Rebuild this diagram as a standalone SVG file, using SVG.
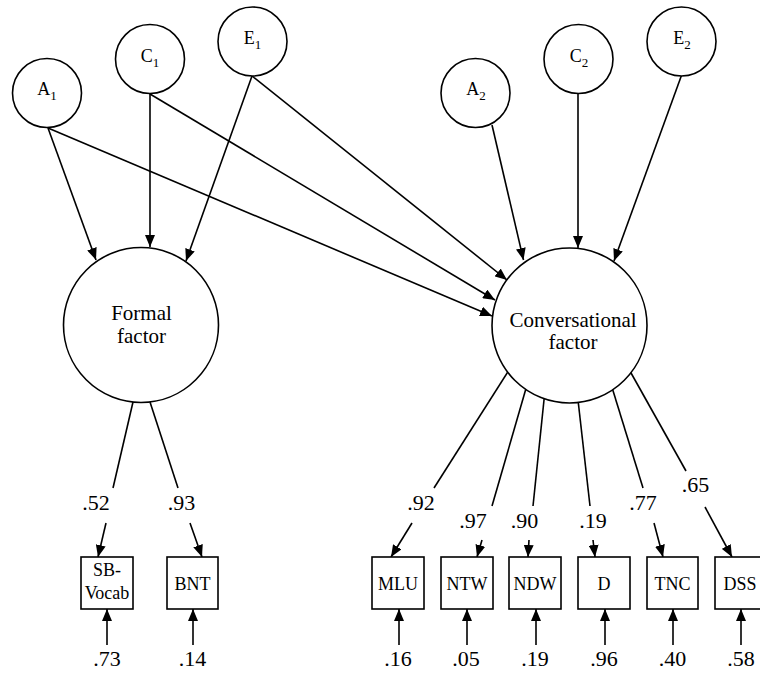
<svg xmlns="http://www.w3.org/2000/svg" width="760" height="673" viewBox="0 0 760 673" font-family="'Liberation Serif', 'Times New Roman', serif">
<defs>
<marker id="ah" viewBox="0 0 12 10" refX="12" refY="5" markerWidth="12" markerHeight="10" orient="auto" markerUnits="userSpaceOnUse"><path d="M0,0 L12,5 L0,10 z" fill="#000"/></marker>
<style>
.c{fill:#fff;stroke:#000;stroke-width:1.6}
.b{fill:#fff;stroke:#000;stroke-width:1.6}
.l{fill:none;stroke:#000;stroke-width:1.6}
.a{fill:none;stroke:#000;stroke-width:1.6;marker-end:url(#ah)}
text{fill:#000;text-anchor:middle}
.n{font-size:18px}
.s{font-size:13px}
.f{font-size:21px}
.v{font-size:22px}
</style>
</defs>
<rect width="760" height="673" fill="#fff"/>
<g id="connectors">
<line class="a" x1="48" y1="128" x2="96" y2="260"/>
<line class="a" x1="150" y1="94" x2="150" y2="247"/>
<line class="a" x1="252" y1="76" x2="186" y2="261"/>
<line class="a" x1="48" y1="128" x2="492" y2="316"/>
<line class="a" x1="150" y1="94" x2="495" y2="300"/>
<line class="a" x1="252" y1="76" x2="507" y2="280"/>
<line class="a" x1="492" y1="125" x2="523.5" y2="260"/>
<line class="a" x1="578" y1="94" x2="578" y2="248"/>
<line class="a" x1="682" y1="74" x2="614" y2="261"/>
<line class="l" x1="133" y1="402" x2="113" y2="488"/>
<line class="a" x1="106" y1="523" x2="98" y2="557"/>
<line class="l" x1="150" y1="402" x2="178" y2="488"/>
<line class="a" x1="190" y1="523" x2="202" y2="557"/>
<line class="l" x1="518" y1="356" x2="434" y2="488"/>
<line class="a" x1="412" y1="523" x2="391" y2="557"/>
<line class="l" x1="538" y1="347" x2="492" y2="506"/>
<line class="a" x1="482" y1="540" x2="477" y2="557"/>
<line class="l" x1="549.5" y1="347" x2="533" y2="506"/>
<line class="a" x1="529" y1="540" x2="528" y2="557"/>
<line class="l" x1="572" y1="347" x2="590" y2="506"/>
<line class="a" x1="593" y1="540" x2="595" y2="557"/>
<line class="l" x1="602" y1="355" x2="643" y2="488"/>
<line class="a" x1="654" y1="523" x2="663" y2="557"/>
<line class="l" x1="626" y1="364" x2="686" y2="471"/>
<line class="a" x1="705" y1="507" x2="732" y2="557"/>
<line class="a" x1="107" y1="645" x2="107" y2="609"/>
<line class="a" x1="193" y1="645" x2="193" y2="609"/>
<line class="a" x1="399" y1="645" x2="399" y2="609"/>
<line class="a" x1="467" y1="645" x2="467" y2="609"/>
<line class="a" x1="536" y1="645" x2="536" y2="609"/>
<line class="a" x1="605" y1="645" x2="605" y2="609"/>
<line class="a" x1="673" y1="645" x2="673" y2="609"/>
<line class="a" x1="741" y1="645" x2="741" y2="609"/>
</g>
<g id="A1"><circle class="c" cx="47" cy="93" r="34.5"/><text class="n" x="47" y="95">A<tspan class="s" dy="5">1</tspan></text></g>
<g id="C1"><circle class="c" cx="150" cy="59" r="34.5"/><text class="n" x="150" y="62">C<tspan class="s" dy="5">1</tspan></text></g>
<g id="E1"><circle class="c" cx="252.5" cy="41.5" r="34.5"/><text class="n" x="252.5" y="44">E<tspan class="s" dy="5">1</tspan></text></g>
<g id="A2"><circle class="c" cx="475.5" cy="93" r="34.5"/><text class="n" x="476" y="95">A<tspan class="s" dy="5">2</tspan></text></g>
<g id="C2"><circle class="c" cx="578.5" cy="59" r="34.5"/><text class="n" x="579" y="62">C<tspan class="s" dy="5">2</tspan></text></g>
<g id="E2"><circle class="c" cx="681.5" cy="41.5" r="34.5"/><text class="n" x="682" y="44">E<tspan class="s" dy="5">2</tspan></text></g>
<g id="formal"><circle class="c" cx="141" cy="325" r="77.5"/><text class="f" x="141.5" y="320">Formal</text><text class="f" x="141.5" y="343">factor</text></g>
<g id="conversational"><circle class="c" cx="569.5" cy="325.5" r="77.5"/><text class="f" x="573" y="327">Conversational</text><text class="f" x="573" y="349">factor</text></g>
<g id="sbvocab"><rect class="b" x="81" y="557" width="52" height="52"/><text class="n" x="107" y="576">SB-</text><text class="n" x="107" y="599">Vocab</text></g>
<g id="bnt"><rect class="b" x="167" y="557" width="51" height="52"/><text class="n" x="192.5" y="590">BNT</text></g>
<g id="mlu"><rect class="b" x="372" y="557" width="52" height="52"/><text class="n" x="398" y="590">MLU</text></g>
<g id="ntw"><rect class="b" x="441" y="557" width="52" height="52"/><text class="n" x="467" y="590">NTW</text></g>
<g id="ndw"><rect class="b" x="509" y="557" width="52" height="52"/><text class="n" x="535" y="590">NDW</text></g>
<g id="d"><rect class="b" x="578" y="557" width="52" height="52"/><text class="n" x="604" y="590">D</text></g>
<g id="tnc"><rect class="b" x="647" y="557" width="51" height="52"/><text class="n" x="672.5" y="590">TNC</text></g>
<g id="dss"><rect class="b" x="715" y="557" width="52" height="52"/><text class="n" x="740" y="590">DSS</text></g>
<g id="labels">
<text class="v" x="96" y="510">.52</text>
<text class="v" x="181.5" y="510">.93</text>
<text class="v" x="421" y="510">.92</text>
<text class="v" x="473" y="528">.97</text>
<text class="v" x="524.5" y="528">.90</text>
<text class="v" x="593" y="528">.19</text>
<text class="v" x="643" y="510">.77</text>
<text class="v" x="695.5" y="492">.65</text>
<text class="v" x="107" y="666">.73</text>
<text class="v" x="192.5" y="666">.14</text>
<text class="v" x="398" y="666">.16</text>
<text class="v" x="466" y="666">.05</text>
<text class="v" x="535" y="666">.19</text>
<text class="v" x="604" y="666">.96</text>
<text class="v" x="672.5" y="666">.40</text>
<text class="v" x="741" y="666">.58</text>
</g>
</svg>
